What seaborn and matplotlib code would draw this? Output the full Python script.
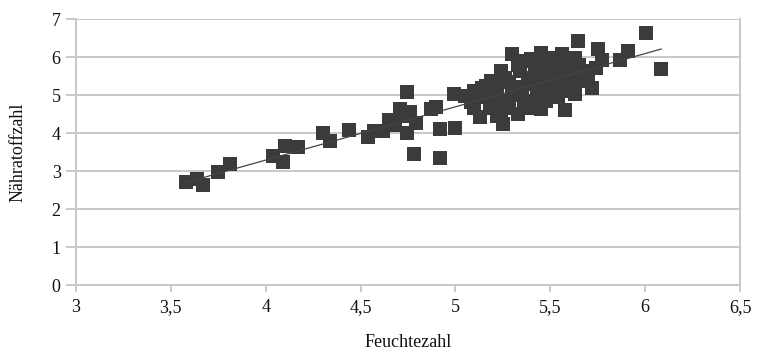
import matplotlib
matplotlib.use("Agg")
import matplotlib.pyplot as plt
import seaborn as sns
import pandas as pd

# ---- data ----
feuchte = [3.58, 3.64, 3.67, 3.75, 3.81, 4.04, 4.09, 4.10, 4.17, 4.30, 4.34, 4.44,
           4.54, 4.57, 4.62, 4.65, 4.68, 4.71, 4.72, 4.745, 4.745, 4.76, 4.78, 4.79,
           4.87, 4.90, 4.92, 4.92, 4.99, 5.00,
           5.05, 5.10, 5.13, 5.14, 5.19, 5.20, 5.24, 5.25, 5.24, 5.27, 5.30, 5.33,
           5.36, 5.33, 5.40, 5.43, 5.45, 5.48, 5.52, 5.56, 5.63, 5.48, 5.50, 5.56,
           5.59, 5.61, 5.63, 5.68, 5.68, 5.72, 5.74, 5.75, 5.77, 5.645, 5.58, 5.865,
           5.91, 6.007, 6.086,
           5.10, 5.16, 5.22, 5.28, 5.30, 5.35, 5.38, 5.42, 5.40, 5.44, 5.46, 5.52,
           5.54, 5.36, 5.28, 5.18, 5.08, 5.48, 5.40, 5.52, 5.58, 5.65, 5.66, 5.62,
           5.70, 5.26, 5.16, 5.34, 5.46, 5.12, 5.20, 5.32, 5.42,
           5.45, 5.50, 5.58, 5.38, 5.22, 5.56]
naehrstoff = [2.70, 2.79, 2.62, 2.97, 3.19, 3.40, 3.23, 3.66, 3.62, 4.01, 3.80, 4.07,
              3.90, 4.05, 4.05, 4.34, 4.20, 4.62, 4.45, 5.07, 4.00, 4.55, 3.45, 4.26,
              4.63, 4.68, 3.35, 4.10, 5.02, 4.14,
              4.97, 4.67, 4.41, 5.19, 5.37, 4.93, 5.63, 4.25, 4.58, 4.84, 6.07, 5.80,
              5.90, 4.50, 4.67, 4.93, 6.11, 5.98, 5.80, 6.07, 5.98, 5.19, 5.54, 5.10,
              5.54, 5.71, 5.02, 5.63, 5.37, 5.19, 5.71, 6.20, 5.93, 6.43, 4.60, 5.93,
              6.15, 6.62, 5.68,
              5.10, 5.02, 5.20, 5.35, 5.05, 5.20, 5.45, 5.65, 5.30, 5.05, 5.40, 5.35,
              4.95, 4.85, 4.65, 4.78, 4.82, 4.85, 5.95, 5.97, 5.85, 5.80, 5.50, 5.25,
              5.45, 5.45, 5.25, 5.62, 5.75, 4.95, 4.65, 5.00, 4.80,
              4.62, 5.05, 5.20, 4.72, 4.45, 5.65]

x_ticks = [3, 3.5, 4, 4.5, 5, 5.5, 6, 6.5]
x_tick_labels = ["3", "3,5", "4", "4,5", "5", "5,5", "6", "6,5"]
y_ticks = [0, 1, 2, 3, 4, 5, 6, 7]
y_tick_labels = ["0", "1", "2", "3", "4", "5", "6", "7"]

df = pd.DataFrame({"Feuchtezahl": feuchte, "Nähratoffzahl": naehrstoff})

sns.set_theme(style="white")
plt.rcParams["font.family"] = ["Liberation Serif", "DejaVu Serif"]

fig = plt.figure(figsize=(7.57, 3.52), dpi=100)
ax = fig.add_axes([76 / 757, 1 - 285 / 352, (740 - 76) / 757, (285 - 19) / 352])

mark = "#3b3b3b"
sns.regplot(data=df, x="Feuchtezahl", y="Nähratoffzahl", ax=ax, ci=None,
            marker="s", color=mark,
            scatter_kws={"s": 90, "linewidths": 0, "alpha": 1, "zorder": 3},
            line_kws={"lw": 0.9, "color": "#454545", "zorder": 4})

ax.set_xlim(3, 6.5)
ax.set_ylim(0, 7)
ax.set_xticks(x_ticks)
ax.set_xticklabels(x_tick_labels)
ax.set_yticks(y_ticks)
ax.set_yticklabels(y_tick_labels)

grid_c = "#c8c8c8"
ax.yaxis.grid(True, color=grid_c, lw=1.4, zorder=0)
ax.xaxis.grid(False)
ax.set_axisbelow(True)
for side in ["left", "right", "bottom"]:
    ax.spines[side].set_visible(True)
    ax.spines[side].set_color(grid_c)
    ax.spines[side].set_linewidth(1.4)
ax.spines["top"].set_visible(False)

ax.tick_params(axis="x", which="major", bottom=True, length=5, width=1.4,
               color=grid_c, labelsize=13, pad=5, labelcolor="#111111")
ax.tick_params(axis="y", which="major", left=True, length=7, width=1.4,
               color=grid_c, labelsize=13, pad=4, labelcolor="#111111")

ax.set_xlabel("Feuchtezahl", fontsize=13, color="#111111", labelpad=13)
ax.set_ylabel("Nähratoffzahl", fontsize=13, color="#111111", labelpad=18)

fig.savefig("out.png", dpi=100, facecolor="white")
